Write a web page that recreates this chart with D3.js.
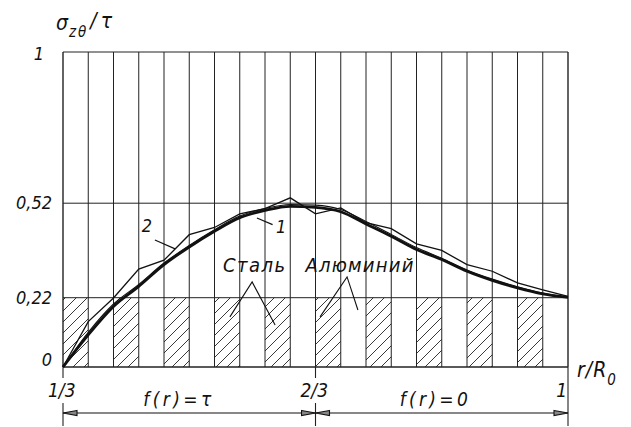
<!DOCTYPE html>
<html>
<head>
<meta charset="utf-8">
<script src="https://cdn.jsdelivr.net/npm/d3@7"></script>
<style>
  body { margin: 0; background: #fff; }
  svg text { font-family: 'DejaVu Sans Condensed', 'DejaVu Sans', sans-serif; font-style: oblique; fill: #111; }
</style>
</head>
<body>
<svg id="chart" width="631" height="427"></svg>
<script>
// r/R0 measured in units of 1/30 (strip boundaries)
var rPoints = [10, 11, 12, 13, 14, 15, 16, 17, 18, 19, 20, 21, 22, 23, 24, 25, 26, 27, 28, 29, 30];

// thick smooth curve
var exactVals = [0, 0.102, 0.192, 0.256, 0.325, 0.381, 0.431, 0.474, 0.497, 0.510, 0.507,
  0.493, 0.454, 0.415, 0.373, 0.341, 0.304, 0.275, 0.251, 0.232, 0.221];
// curve 1 (thin, hugging the thick one)
var curve1Vals = [0, 0.110, 0.200, 0.262, 0.330, 0.386, 0.436, 0.479, 0.503, 0.516, 0.514,
  0.500, 0.462, 0.421, 0.379, 0.345, 0.308, 0.279, 0.255, 0.235, 0.222];
// curve 2 (thin polyline)
var curve2Vals = [0, 0.144, 0.219, 0.311, 0.339, 0.420, 0.443, 0.486, 0.503, 0.537, 0.486,
  0.505, 0.458, 0.439, 0.391, 0.370, 0.325, 0.304, 0.267, 0.245, 0.224];

// material of each strip: s = steel (hatched), a = aluminium
var strips = ['s','a','s','a','s','a','s','a','s','a','s','a','s','a','s','a','s','a','s','a'];

var yTicks = [0, 0.22, 0.52, 1];
var yTickLabels = ['0', '0,22', '0,52', '1'];
var xTicks = [10, 20, 30];
var xTickLabels = ['1/3', '2/3', '1'];
var hatchTop = 0.22;

var svg = d3.select('#chart');

var x = d3.scaleLinear().domain([10, 30]).range([63, 568]);
var y = d3.scaleLinear().domain([0, 1]).range([367, 52]);

// hatch pattern
var s = 11;
var defs = svg.append('defs');
defs.append('pattern')
  .attr('id', 'hatch')
  .attr('patternUnits', 'userSpaceOnUse')
  .attr('width', s).attr('height', s)
  .append('path')
  .attr('d', 'M0,' + s + ' l' + s + ',-' + s + ' M-2,2 l4,-4 M' + (s - 2) + ',' + (s + 2) + ' l4,-4')
  .attr('stroke', '#222')
  .attr('stroke-width', 0.9);

['end', 'start'].forEach(function(k) {
  defs.append('marker')
    .attr('id', 'arr-' + k)
    .attr('viewBox', '0 0 16 8')
    .attr('refX', k == 'end' ? 15 : 1).attr('refY', 4)
    .attr('markerWidth', 16).attr('markerHeight', 8)
    .attr('markerUnits', 'userSpaceOnUse')
    .attr('orient', 'auto')
    .append('path')
    .attr('d', k == 'end' ? 'M1,1.5 L15,4 L1,6.5 Z' : 'M15,1.5 L1,4 L15,6.5 Z')
    .attr('fill', '#888')
    .attr('stroke', '#111')
    .attr('stroke-width', 1.1);
});

// hatched steel strips
svg.append('g').selectAll('rect')
  .data(strips.map(function(m, i) { return {m: m, i: i}; }).filter(function(d) { return d.m == 's'; }))
  .enter().append('rect')
  .attr('x', function(d) { return x(rPoints[d.i]); })
  .attr('width', function(d) { return x(rPoints[d.i + 1]) - x(rPoints[d.i]); })
  .attr('y', y(hatchTop))
  .attr('height', y(0) - y(hatchTop))
  .attr('fill', 'url(#hatch)');

// vertical grid
svg.append('g').selectAll('line')
  .data(rPoints)
  .enter().append('line')
  .attr('x1', function(d) { return x(d); })
  .attr('x2', function(d) { return x(d); })
  .attr('y1', y(1))
  .attr('y2', y(0))
  .attr('stroke', '#222')
  .attr('stroke-width', function(d, i) { return (i == 0 || i == rPoints.length - 1) ? 1.4 : 1; });

// horizontal lines
svg.append('g').selectAll('line')
  .data(yTicks)
  .enter().append('line')
  .attr('x1', x(10))
  .attr('x2', x(30))
  .attr('y1', function(d) { return y(d); })
  .attr('y2', function(d) { return y(d); })
  .attr('stroke', '#222')
  .attr('stroke-width', function(d) { return d == 0 ? 1.6 : 1; });

// y tick labels
svg.append('g').selectAll('text')
  .data(yTicks)
  .enter().append('text')
  .attr('x', function(d) { return d == 1 ? 44 : 52; })
  .attr('y', function(d) { return y(d) + (d == 0 ? -1 : (d == 1 ? 8 : 6)); })
  .attr('text-anchor', 'end')
  .style('font-size', '18px')
  .text(function(d, i) { return yTickLabels[i]; });

// x tick labels
svg.append('g').selectAll('text')
  .data(xTicks)
  .enter().append('text')
  .attr('x', function(d, i) { return i == 2 ? x(d) - 1 : x(d) - 15; })
  .attr('y', 397)
  .attr('text-anchor', function(d, i) { return i == 2 ? 'end' : 'start'; })
  .style('font-size', '19px')
  .text(function(d, i) { return xTickLabels[i]; });

// extension lines below axis
svg.append('g').selectAll('line')
  .data(xTicks)
  .enter().append('line')
  .attr('x1', function(d) { return x(d); })
  .attr('x2', function(d) { return x(d); })
  .attr('y1', function(d, i) { return i == 2 ? 367 : 403; })
  .attr('y2', 426)
  .attr('stroke', '#222')
  .attr('stroke-width', 1.1);
svg.append('g').selectAll('line')
  .data(xTicks.slice(0, 2))
  .enter().append('line')
  .attr('x1', function(d) { return x(d); })
  .attr('x2', function(d) { return x(d); })
  .attr('y1', 367).attr('y2', 378)
  .attr('stroke', '#222')
  .attr('stroke-width', 1.1);

// dimension arrows
var dimY = 413;
[[10, 20], [20, 30]].forEach(function(p) {
  svg.append('line')
    .attr('x1', x(p[0])).attr('x2', x(p[1]))
    .attr('y1', dimY).attr('y2', dimY)
    .attr('stroke', '#111').attr('stroke-width', 1.1)
    .attr('marker-start', 'url(#arr-start)')
    .attr('marker-end', 'url(#arr-end)');
});
svg.append('text')
  .attr('x', x(15) - 12).attr('y', 406)
  .attr('text-anchor', 'middle')
  .style('font-size', '19px')
  .attr('textLength', 68)
  .text('f(r)=τ');
svg.append('text')
  .attr('x', x(25) - 8).attr('y', 406)
  .attr('text-anchor', 'middle')
  .style('font-size', '19px')
  .attr('textLength', 68)
  .text('f(r)=0');

// curves
var line = d3.line()
  .x(function(d, i) { return x(rPoints[i]); })
  .y(function(d) { return y(d); });

svg.append('path')
  .datum(curve2Vals)
  .attr('d', line.curve(d3.curveLinear))
  .attr('fill', 'none')
  .attr('stroke', '#111')
  .attr('stroke-width', 1.3);

svg.append('path')
  .datum(curve1Vals)
  .attr('d', line.curve(d3.curveMonotoneX))
  .attr('fill', 'none')
  .attr('stroke', '#111')
  .attr('stroke-width', 1.1);

svg.append('path')
  .datum(exactVals)
  .attr('d', line.curve(d3.curveMonotoneX))
  .attr('fill', 'none')
  .attr('stroke', '#111')
  .attr('stroke-width', 2.8);

// curve labels + leaders
function leader(pts) {
  svg.append('path')
    .attr('d', d3.line().x(function(p) { return x(p[0]); }).y(function(p) { return y(p[1]); })(pts))
    .attr('fill', 'none')
    .attr('stroke', '#111')
    .attr('stroke-width', 1.1);
}
svg.append('text').attr('x', x(18.44)).attr('y', y(0.425)).style('font-size', '18px').text('1');
leader([[17.68, 0.473], [18.3, 0.452]]);
svg.append('text').attr('x', x(13.12)).attr('y', y(0.429)).style('font-size', '18px').text('2');
leader([[13.64, 0.403], [14.44, 0.375]]);

// material labels
svg.append('text')
  .attr('x', x(16.34)).attr('y', y(0.302))
  .style('font-size', '20px')
  .attr('textLength', 62)
  .text('Сталь');
svg.append('text')
  .attr('x', x(19.6)).attr('y', y(0.302))
  .style('font-size', '20px')
  .attr('textLength', 108)
  .text('Алюминий');
leader([[16.61, 0.159], [17.49, 0.27], [18.4, 0.133]]);
leader([[20.18, 0.159], [21.25, 0.286], [21.68, 0.181]]);

// axis titles
var yt = svg.append('text').attr('x', 56).attr('y', 30).style('font-size', '21px');
yt.append('tspan').text('σ');
yt.append('tspan').attr('dy', 7).attr('dx', 1).style('font-size', '15px').style('letter-spacing', '2px').text('zθ');
yt.append('tspan').attr('dy', -9).attr('dx', 2).style('letter-spacing', '4px').text('/τ');

var xt = svg.append('text').attr('x', 577).attr('y', 377).style('font-size', '21px');
xt.append('tspan').style('letter-spacing', '1px').text('r/R');
xt.append('tspan').attr('dy', 8).style('font-size', '15px').text('0');
</script>
</body>
</html>
